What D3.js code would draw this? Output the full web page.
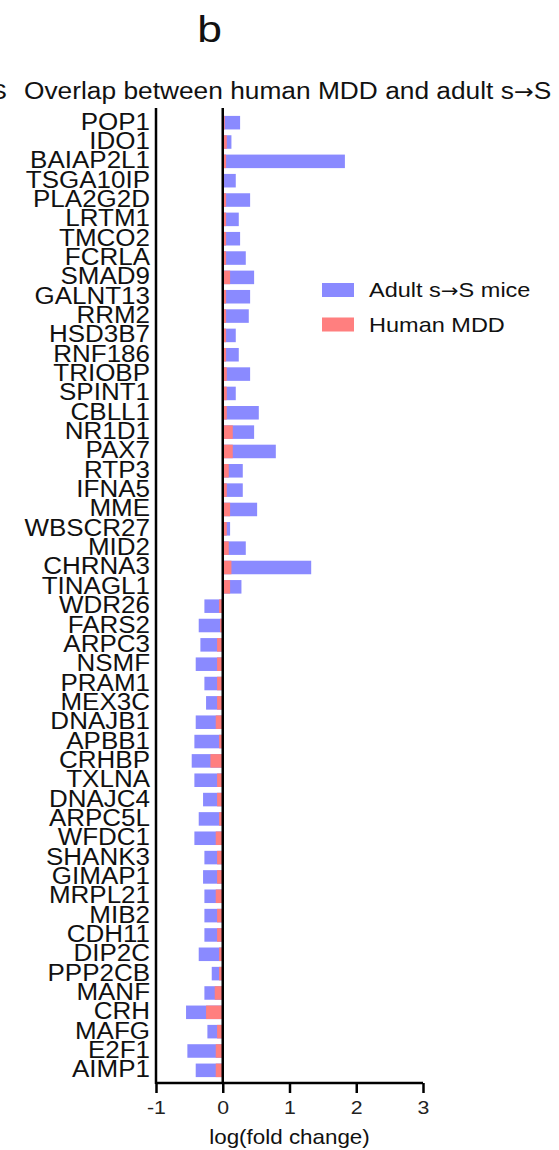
<!DOCTYPE html>
<html><head><meta charset="utf-8">
<script src="https://cdn.jsdelivr.net/npm/d3@7"></script>
<style>body{margin:0;background:#fff;} svg{display:block;font-family:"Liberation Sans",Arial,sans-serif;}</style>
</head><body>
<script>
const genes = ["POP1","IDO1","BAIAP2L1","TSGA10IP","PLA2G2D","LRTM1","TMCO2","FCRLA","SMAD9","GALNT13","RRM2","HSD3B7","RNF186","TRIOBP","SPINT1","CBLL1","NR1D1","PAX7","RTP3","IFNA5","MME","WBSCR27","MID2","CHRNA3","TINAGL1","WDR26","FARS2","ARPC3","NSMF","PRAM1","MEX3C","DNAJB1","APBB1","CRHBP","TXLNA","DNAJC4","ARPC5L","WFDC1","SHANK3","GIMAP1","MRPL21","MIB2","CDH11","DIP2C","PPP2CB","MANF","CRH","MAFG","E2F1","AIMP1"];
const miceValues = [0.26,0.13,1.83,0.195,0.41,0.24,0.26,0.345,0.47,0.41,0.39,0.195,0.24,0.41,0.195,0.54,0.47,0.795,0.30,0.30,0.515,0.11,0.345,1.325,0.28,-0.275,-0.36,-0.335,-0.405,-0.275,-0.25,-0.405,-0.425,-0.465,-0.425,-0.295,-0.36,-0.425,-0.275,-0.295,-0.275,-0.275,-0.275,-0.36,-0.165,-0.275,-0.55,-0.23,-0.53,-0.405];
const humanValues = [0.03,0.06,0.05,0.02,0.05,0.05,0.05,0.05,0.11,0.05,0.05,0.05,0.05,0.06,0.06,0.06,0.15,0.15,0.09,0.06,0.11,0.06,0.09,0.13,0.11,-0.055,-0.04,-0.085,-0.085,-0.085,-0.085,-0.105,-0.055,-0.185,-0.085,-0.085,-0.055,-0.105,-0.085,-0.085,-0.105,-0.085,-0.085,-0.055,-0.055,-0.12,-0.25,-0.085,-0.105,-0.105];
const xTicks = [-1,0,1,2,3];
const seriesNames = [["Adult s","\u2192","S mice"],["Human MDD"]];
const seriesColors = ["#8a8aff","#ff7f7f"];
const panelLetter = "b";
const titleParts = ["Overlap between human MDD and adult s","\u2192","S mice"];
const xTitle = "log(fold change)";

const W = 559, H = 1150;
const svg = d3.select("body").append("svg").attr("width", W).attr("height", H);

const x = d3.scaleLinear().domain([-1, 3]).range([156, 423]);
const y = d3.scaleBand().domain(genes).range([113, 1080]).paddingInner(0.3).paddingOuter(0.15);

const SX = 1.12;
function stext(px, py, size, anchor, parts, sx) {
  const t = svg.append("text")
    .attr("transform", `translate(${px},${py}) scale(${sx || SX},1)`)
    .attr("text-anchor", anchor).attr("font-size", size).attr("fill", "#111");
  parts.forEach(p => {
    const s = t.append("tspan").text(p);
    if (p === "\u2192") s.attr("font-family", "DejaVu Sans").attr("font-size", size * 0.9);
  });
  return t;
}

stext(209.5, 42, 37, "middle", [panelLetter], 1.2);
stext(7, 99, 23, "end", ["S"]);
stext(24, 99, 23.5, "start", titleParts);

// bars
const rows = genes.map((g, i) => ({g, m: miceValues[i], h: humanValues[i]}));
svg.append("g").selectAll("rect").data(rows).join("rect")
  .attr("x", d => x(Math.min(0, d.m))).attr("width", d => Math.abs(x(d.m) - x(0)))
  .attr("y", d => y(d.g)).attr("height", y.bandwidth()).attr("fill", seriesColors[0]);
svg.append("g").selectAll("rect").data(rows).join("rect")
  .attr("x", d => x(Math.min(0, d.h))).attr("width", d => Math.abs(x(d.h) - x(0)))
  .attr("y", d => y(d.g)).attr("height", y.bandwidth()).attr("fill", seriesColors[1]);

// zero line
svg.append("line").attr("x1", x(0)).attr("x2", x(0)).attr("y1", 108).attr("y2", 1083)
  .attr("stroke", "#000").attr("stroke-width", 2.5);
// left axis line
svg.append("line").attr("x1", x(-1)).attr("x2", x(-1)).attr("y1", 108).attr("y2", 1084)
  .attr("stroke", "#000").attr("stroke-width", 2.5);

// gene labels
svg.append("g").selectAll("text").data(genes).join("text")
  .attr("transform", d => `translate(150,${y(d) + y.bandwidth()/2 + 7}) scale(1.13,1)`)
  .attr("text-anchor", "end").attr("font-size", 23).attr("fill", "#111").text(d => d);

// x axis
const xa = svg.append("g").attr("transform", "translate(0,1083)")
  .call(d3.axisBottom(x).tickValues(xTicks).tickSize(10).tickPadding(8).tickFormat(d => String(d)));
xa.select(".domain").attr("stroke-width", 2.5).attr("d", `M${x(-1)},0H${x(3)}`);
xa.selectAll(".tick line").attr("stroke-width", 2.5);
xa.selectAll(".tick text").attr("font-size", 19).attr("font-family", "Liberation Sans, Arial, sans-serif").attr("fill", "#222")
  .attr("transform", `scale(${SX},1)`).attr("x", 0);
stext((x(-1) + x(3)) / 2, 1144, 20, "middle", [xTitle]);

// legend
seriesNames.forEach((n, i) => {
  svg.append("rect").attr("x", 322).attr("y", 283 + i * 34.5).attr("width", 32).attr("height", 14).attr("fill", seriesColors[i]);
  stext(369, 297 + i * 34.5, 21, "start", n);
});
</script>
</body></html>
